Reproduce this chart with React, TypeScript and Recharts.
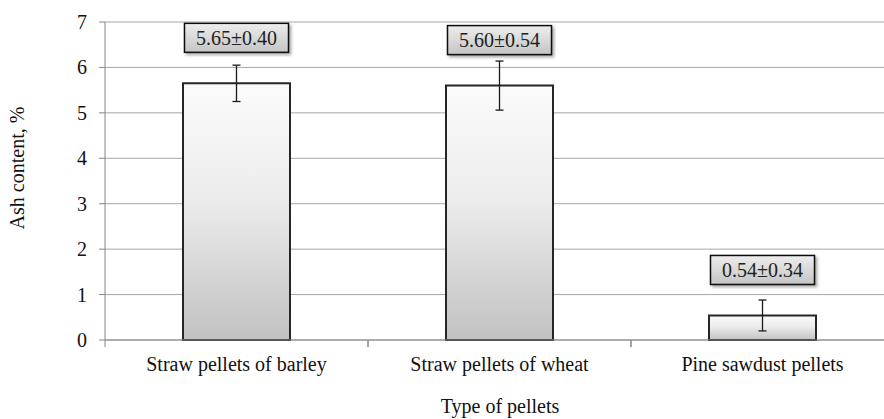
import React from 'react';
import {
  BarChart,
  Bar,
  XAxis,
  YAxis,
  CartesianGrid,
  ErrorBar,
  LabelList,
} from 'recharts';

// values
const categories = ['Straw pellets of barley', 'Straw pellets of wheat', 'Pine sawdust pellets'];
const ashMeans = [5.65, 5.6, 0.54];
const ashSd = [0.4, 0.54, 0.34];
const yTicks = [0, 1, 2, 3, 4, 5, 6, 7];

const data = categories.map((name, i) => ({
  name,
  ash: ashMeans[i],
  sd: ashSd[i],
  label: `${ashMeans[i].toFixed(2)}±${ashSd[i].toFixed(2)}`,
}));

const FONT = '"Liberation Serif", "Times New Roman", serif';
const AXIS_GRAY = '#868686';
const TICK_SIZE = 7;
const TICK_MARGIN = 10;

const CategoryTick = (props: any) => {
  const { x, y, payload } = props;
  const half = payload?.offset ?? 131.5;
  const axisY = y - TICK_SIZE - TICK_MARGIN;
  return (
    <g>
      <line x1={x - half} y1={axisY} x2={x - half} y2={axisY + TICK_SIZE} stroke={AXIS_GRAY} />
      <line x1={x + half} y1={axisY} x2={x + half} y2={axisY + TICK_SIZE} stroke={AXIS_GRAY} />
      <text x={x} y={y} dy="0.71em" textAnchor="middle" fill="#111" fontSize={20} fontFamily={FONT}>
        {payload.value}
      </text>
    </g>
  );
};

const ValueTick = (props: any) => {
  const { x, y, payload } = props;
  return (
    <text x={x} y={y} dy="0.35em" textAnchor="end" fill="#111" fontSize={20} fontFamily={FONT}>
      {payload.value}
    </text>
  );
};

// boxed "mean±sd" label sitting above each bar
const ValueBox = (props: any) => {
  const vb = props.viewBox ?? props;
  const x = vb.x ?? props.x;
  const y = vb.y ?? props.y;
  const width = vb.width ?? props.width;
  const cx = x + width / 2;
  const bw = 104;
  const bh = 29;
  const top = y - 31 - bh;
  return (
    <g>
      <rect
        x={cx - bw / 2}
        y={top}
        width={bw}
        height={bh}
        fill="url(#boxGrad)"
        stroke="#111"
        strokeWidth={1.5}
        filter="url(#shadow)"
      />
      <text
        x={cx}
        y={top + bh / 2}
        dy="0.35em"
        textAnchor="middle"
        fontSize={20}
        fontFamily={FONT}
        fill="#222"
      >
        {props.value}
      </text>
    </g>
  );
};

export default function App() {
  return (
    <div style={{ width: 884, height: 419, overflow: 'hidden', background: '#fff', fontFamily: FONT }}>
      <style>{'body{margin:0}'}</style>
      <BarChart
        width={894}
        height={419}
        data={data}
        margin={{ top: 22, right: 0, left: 45, bottom: 39 }}
        barSize={107}
        style={{ fontFamily: FONT }}
      >
        <defs>
          <linearGradient id="barGrad" x1="0" y1="0" x2="0" y2="1">
            <stop offset="0%" stopColor="#fbfbfb" />
            <stop offset="45%" stopColor="#ececec" />
            <stop offset="100%" stopColor="#c2c2c2" />
          </linearGradient>
          <linearGradient id="boxGrad" x1="0" y1="0" x2="0" y2="1">
            <stop offset="0%" stopColor="#eeeeee" />
            <stop offset="100%" stopColor="#c4c4c4" />
          </linearGradient>
          <filter id="shadow" x="-20%" y="-20%" width="140%" height="160%">
            <feDropShadow dx="2" dy="2" stdDeviation="1.5" floodColor="#000" floodOpacity="0.35" />
          </filter>
        </defs>
        <CartesianGrid vertical={false} stroke="#a6a6a6" />
        <XAxis
          dataKey="name"
          height={40}
          axisLine={{ stroke: AXIS_GRAY }}
          tickLine={false}
          tickSize={TICK_SIZE}
          tickMargin={TICK_MARGIN}
          tick={<CategoryTick />}
          interval={0}
          label={{
            content: () => (
              <text x={500} y={413} textAnchor="middle" fontSize={20} fontFamily={FONT} fill="#111">
                Type of pellets
              </text>
            ),
          }}
        />
        <YAxis
          width={60}
          domain={[0, 7]}
          ticks={yTicks}
          axisLine={{ stroke: AXIS_GRAY }}
          tickLine={{ stroke: AXIS_GRAY }}
          tickSize={6}
          tickMargin={12}
          tick={<ValueTick />}
          label={{
            content: () => (
              <text
                transform="translate(17,168) rotate(-90)"
                dy="0.35em"
                textAnchor="middle"
                fontSize={20}
                fontFamily={FONT}
                fill="#111"
              >
                Ash content, %
              </text>
            ),
          }}
        />
        <Bar
          dataKey="ash"
          fill="url(#barGrad)"
          stroke="#262626"
          strokeWidth={2}
          isAnimationActive={false}
        >
          <ErrorBar dataKey="sd" width={4} stroke="#1a1a1a" strokeWidth={1.3} direction="y" />
          <LabelList dataKey="label" content={<ValueBox />} />
        </Bar>
      </BarChart>
    </div>
  );
}
